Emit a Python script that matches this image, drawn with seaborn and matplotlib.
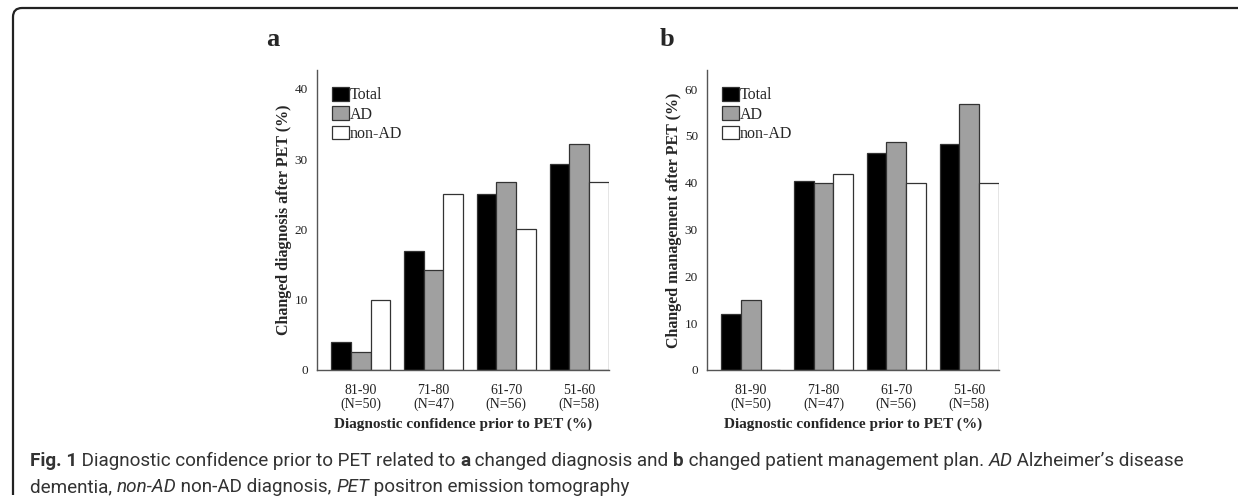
import numpy as np
import pandas as pd
import matplotlib
matplotlib.use("Agg")
import matplotlib.pyplot as plt
import seaborn as sns
from matplotlib.patches import Patch, PathPatch
from matplotlib.path import Path

# ---- data ----
groups = ["81-90\n(N=50)", "71-80\n(N=47)", "61-70\n(N=56)", "51-60\n(N=58)"]
series = ["Total", "AD", "non-AD"]
diag_total = [4.0, 17.0, 25.0, 29.3]
diag_ad = [2.5, 14.3, 26.8, 32.1]
diag_nonad = [10.0, 25.0, 20.0, 26.7]
mgmt_total = [12.0, 40.4, 46.3, 48.3]
mgmt_ad = [15.0, 40.0, 48.8, 56.9]
mgmt_nonad = [0.0, 41.8, 40.0, 40.0]
yticks_a = [0, 10, 20, 30, 40]
yticks_b = [0, 10, 20, 30, 40, 50, 60]

def long_df(t, a, n):
    rows = []
    for vals, s in zip([t, a, n], series):
        for g, v in zip(groups, vals):
            rows.append({"group": g, "series": s, "value": v})
    return pd.DataFrame(rows)

df_a = long_df(diag_total, diag_ad, diag_nonad)
df_b = long_df(mgmt_total, mgmt_ad, mgmt_nonad)

sns.set_style("white")
plt.rcParams["font.family"] = ["Liberation Serif", "DejaVu Serif"]

W, H = 1238, 501
fig = plt.figure(figsize=(W / 100, H / 100), dpi=100)

palette = {"Total": "#000000", "AD": "#a0a0a0", "non-AD": "#ffffff"}
spine_c = "#555555"

def px_axes(l, t, r, b):
    return fig.add_axes([l / W, 1 - b / H, (r - l) / W, (b - t) / H])

ax_a = px_axes(317, 70, 609, 370)
ax_b = px_axes(707, 70, 999, 370)

specs = [
    (ax_a, df_a, yticks_a, 42.7, "Changed diagnosis after PET (%)", "a"),
    (ax_b, df_b, yticks_b, 64.1, "Changed management after PET (%)", "b"),
]

for ax, df, yt, ymax, ylab, letter in specs:
    sns.barplot(data=df, x="group", y="value", hue="series", hue_order=series,
                palette=palette, order=groups, width=0.81, ax=ax,
                edgecolor="#333333", linewidth=0.9, saturation=1,
                legend=False, errorbar=None)
    ax.set_xlim(-0.6, 3.41)
    ax.set_ylim(0, ymax)
    ax.set_yticks(yt)
    ax.set_yticklabels([str(v) for v in yt])
    for s in ["top", "right"]:
        ax.spines[s].set_visible(False)
    for s in ["left", "bottom"]:
        ax.spines[s].set_color(spine_c)
        ax.spines[s].set_linewidth(1.0)
    ax.tick_params(axis="y", direction="out", length=5, width=1.0,
                   color=spine_c, labelsize=9.5, pad=1.5, labelcolor="#222222")
    ax.tick_params(axis="x", direction="out", length=7, width=1.0,
                   color=spine_c, labelsize=10, pad=3, labelcolor="#222222")
    for lbl in ax.get_xticklabels():
        lbl.set_linespacing(1.05)
    ax.set_ylabel(ylab, fontsize=11.5, fontweight="bold", labelpad=2)
    ax.set_xlabel("Diagnostic confidence prior to PET (%)", fontsize=11,
                  fontweight="bold", labelpad=5)
    handles = [Patch(facecolor=palette[s], edgecolor="#333333", linewidth=0.9,
                     label=s) for s in series]
    ax.legend(handles=handles, loc="upper left", bbox_to_anchor=(0.02, 0.975),
              frameon=False, fontsize=11.5, handlelength=1.05, handleheight=0.95,
              handletextpad=0.05, labelspacing=0.18, borderaxespad=0.2)

# overlay for frame, letters and caption (pixel coords)
ov = fig.add_axes([0, 0, 1, 1], zorder=-1)
ov.set_xlim(0, W)
ov.set_ylim(H, 0)
ov.axis("off")

ov.text(266, 46, "a", fontsize=19, fontweight="bold", va="baseline",
        ha="left", family=["Liberation Serif"])
ov.text(660, 46, "b", fontsize=19, fontweight="bold", va="baseline",
        ha="left", family=["Liberation Serif"])

# rounded frame: top edge and left edge
r = 9
verts = [(W + 2, 8), (13 + r, 8), (13, 8), (13, 8 + r), (13, 495)]
codes = [Path.MOVETO, Path.LINETO, Path.CURVE3, Path.CURVE3, Path.LINETO]
ov.add_patch(PathPatch(Path(verts, codes), fill=False, edgecolor="#222222",
                       linewidth=1.6))

cap_family = ["Roboto", "DejaVu Sans"]
cap_c = "#333333"
cap_fs = 13.6

def caption_line(pieces, x, y):
    prev = ov.text(x, y, pieces[0][0], fontsize=cap_fs, color=cap_c,
                   family=cap_family, va="baseline", ha="left", **pieces[0][1])
    for txt, kw in pieces[1:]:
        prev = ov.annotate(txt, xy=(1, 0), xycoords=prev, va="bottom",
                           ha="left", fontsize=cap_fs, color=cap_c,
                           family=cap_family, **kw)

B = {"fontweight": "bold"}
I = {"fontstyle": "italic"}
N = {}
caption_line([("Fig. 1", B), (" Diagnostic confidence prior to PET related to ", N),
              ("a", B), (" changed diagnosis and ", N), ("b", B),
              (" changed patient management plan. ", N), ("AD", I),
              (" Alzheimer\u2019s disease", N)], 30, 466)
caption_line([("dementia, ", N), ("non-AD", I), (" non-AD diagnosis, ", N),
              ("PET", I), (" positron emission tomography", N)], 30, 492)

fig.savefig("out.png", dpi=100)
